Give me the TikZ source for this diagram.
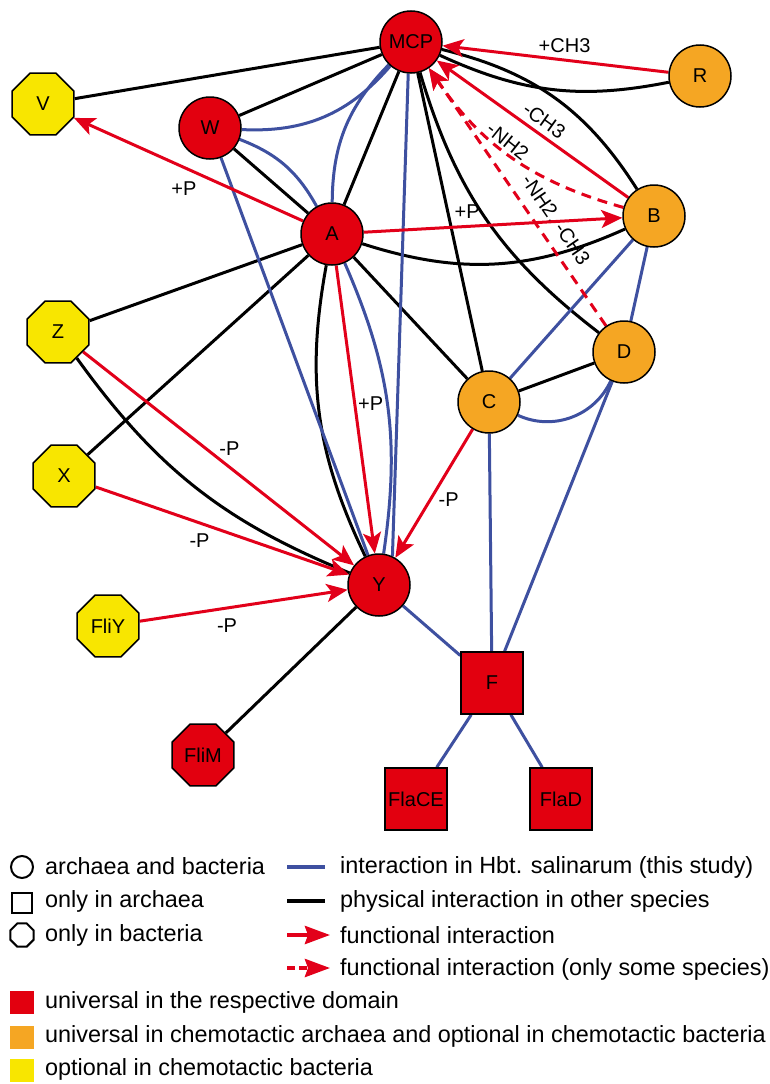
\documentclass[tikz,border=0pt]{standalone}
\usepackage{fontspec}
\setmainfont{Liberation Sans}
\usetikzlibrary{shapes.geometric,arrows.meta}
\definecolor{nred}{RGB}{226,0,15}
\definecolor{norange}{RGB}{245,166,35}
\definecolor{nyellow}{RGB}{248,230,0}
\definecolor{eblue}{RGB}{62,80,160}
\definecolor{ered}{RGB}{226,0,26}
\pgfdeclarelayer{back}
\pgfdeclarelayer{bg}
\pgfsetlayers{back,bg,main}
\begin{document}
\begin{tikzpicture}[x=1pt,y=-1pt,
  every node/.style={font=\fontsize{20}{24}\selectfont},
  circ/.style={circle,draw=black,line width=1.5pt,minimum size=62pt,inner sep=0pt},
  oct/.style={regular polygon,regular polygon sides=8,draw=black,line width=1.5pt,minimum size=67pt,inner sep=0pt},
  sq/.style={rectangle,draw=black,line width=1.5pt,minimum size=62pt,inner sep=0pt},
  blk/.style={draw=black,line width=3pt},
  blu/.style={draw=eblue,line width=3pt},
  fun/.style={draw=ered,line width=3pt,-{Stealth[length=21pt,width=18pt,inset=5pt]}},
  fund/.style={fun,dash pattern=on 10pt off 7pt},
  lab/.style={font=\fontsize{20}{24}\selectfont,inner sep=2pt},
  leg/.style={font=\fontsize{23.4}{27}\selectfont,anchor=base west,inner sep=0pt},
  legbox/.style={rectangle,minimum width=24pt,minimum height=23pt,inner sep=0pt},
]
\begin{pgfonlayer}{back}
\fill[white] (0,0) rectangle (770,1084);
\end{pgfonlayer}
\useasboundingbox (0,0) rectangle (770,1084);

% nodes
\node[circ,fill=nred] (MCP) at (411,42) {MCP};
\node[circ,fill=norange] (R) at (700,76) {R};
\node[circ,fill=norange] (B) at (654,216) {B};
\node[circ,fill=nred] (W) at (210,128) {W};
\node[oct,fill=nyellow] (V) at (43,104) {V};
\node[circ,fill=nred] (A) at (332,234) {A};
\node[circ,fill=norange] (D) at (624,352) {D};
\node[circ,fill=norange] (C) at (489,402) {C};
\node[oct,fill=nyellow] (Z) at (58,332) {Z};
\node[oct,fill=nyellow] (X) at (64,476) {X};
\node[circ,fill=nred] (Y) at (379,585) {Y};
\node[oct,fill=nyellow] (FliY) at (108,626) {FliY};
\node[sq,fill=nred] (F) at (492,683) {F};
\node[oct,fill=nred] (FliM) at (203,755) {FliM};
\node[sq,fill=nred] (FlaCE) at (416,799) {FlaCE};
\node[sq,fill=nred] (FlaD) at (561,799) {FlaD};

\begin{pgfonlayer}{bg}
% black: physical interaction
\draw[blk] (MCP) -- (V);
\draw[blk] (MCP) -- (W);
\draw[blk] (MCP) -- (A);
\draw[blk] (MCP) -- (C);
\draw[blk] (MCP) to[bend right=18] (D);
\draw[blk] (MCP) to[bend left=22] (B);
\draw[blk] (MCP) to[bend right=18] (R);
\draw[blk] (W) -- (A);
\draw[blk] (A) -- (Z);
\draw[blk] (A) -- (X);
\draw[blk] (A) -- (C);
\draw[blk] (A) to[bend right=21] (B);
\draw[blk] (A) to[bend right=18] (Y);
\draw[blk] (Z) to[bend right=16] (Y);
\draw[blk] (C) -- (D);
\draw[blk] (Y) -- (FliM);
% blue: Hbt. salinarum
\draw[blu] (W) to[bend right=26] (MCP);
\draw[blu] (W) to[bend left=20] (A);
\draw[blu] (A) to[bend left=22] (MCP);
\draw[blu] (MCP.-95) -- (Y.65);
\draw[blu] (W) -- (Y);
\draw[blu] (A) to[bend left=16] (Y);
\draw[blu] (C) -- (B);
\draw[blu] (B) -- (D);
\draw[blu] (C) to[bend right=45] (D);
\draw[blu] (C) -- (F);
\draw[blu] (D) -- (F);
\draw[blu] (Y) -- (F);
\draw[blu] (F) -- (FlaCE);
\draw[blu] (F) -- (FlaD);
% red: functional
\draw[fun] (R) -- node[lab,above=4pt,pos=0.46]{+CH3} (MCP);
\draw[fun] (B) -- node[lab,sloped,above=3pt,pos=0.48]{-CH3} (MCP);
\draw[fund] (B) to[bend left=20] node[lab,sloped,above=0pt,pos=0.56]{-NH2} (MCP);
\draw[fund] (D) -- node[lab,sloped,above=6pt,pos=0.37]{-NH2, -CH3} (MCP);
\draw[fun] (A) -- node[lab,below=11pt,pos=0.52]{+P} (V);
\draw[fun] (A) -- node[lab,above=4pt,pos=0.40]{+P} (B);
\draw[fun] (A) -- node[lab,right=0pt,pos=0.48]{+P} (Y);
\draw[fun] (Z) -- node[lab,above=8pt,pos=0.54]{-P} (Y);
\draw[fun] (X) -- node[lab,below=7pt,pos=0.41]{-P} (Y);
\draw[fun] (FliY) -- node[lab,below=7pt,pos=0.42]{-P} (Y);
\draw[fun] (C) -- node[lab,right=5pt,pos=0.55]{-P} (Y);
\end{pgfonlayer}

% legend
\node[circle,draw=black,line width=2pt,minimum size=22pt,inner sep=0pt] (lgc) at (22,867) {};
\node[leg] (lgct) at (45,874) {archaea and bacteria};
\node[rectangle,draw=black,line width=2pt,minimum width=20pt,minimum height=20pt,inner sep=0pt] (lgs) at (22,903) {};
\node[leg] (lgst) at (45,907) {only in archaea};
\node[regular polygon,regular polygon sides=8,draw=black,line width=2pt,minimum size=25pt,inner sep=0pt] (lgo) at (22,935) {};
\node[leg] (lgot) at (45,941) {only in bacteria};

\coordinate (b1) at (287,867); \coordinate (b2) at (325,867);
\draw[draw=eblue,line width=4pt] (b1) -- (b2);
\node[leg] (lgbt) at (340,873) {interaction in Hbt. salinarum (this study)};
\coordinate (k1) at (287,901); \coordinate (k2) at (325,901);
\draw[draw=black,line width=4pt] (k1) -- (k2);
\node[leg] (lgkt) at (340,907) {physical interaction in other species};
\coordinate (r1) at (287,935); \coordinate (r2) at (330,935);
\draw[draw=ered,line width=4pt,-{Stealth[length=25pt,width=18pt,inset=3pt]}] (r1) -- (r2);
\node[leg] (lgrt) at (340,943) {functional interaction};
\coordinate (d1) at (287,968); \coordinate (d2) at (330,968);
\draw[draw=ered,line width=4pt,dash pattern=on 8pt off 4pt,-{Stealth[length=25pt,width=18pt,inset=3pt]}] (d1) -- (d2);
\node[leg] (lgdt) at (340,975) {functional interaction (only some species)};

\node[legbox,fill=nred] (lgred) at (22,1002) {};
\node[leg] (lgredt) at (45,1008) {universal in the respective domain};
\node[legbox,fill=norange] (lgor) at (22,1037) {};
\node[leg] (lgort) at (45,1042) {universal in chemotactic archaea and optional in chemotactic bacteria};
\node[legbox,fill=nyellow] (lgye) at (22,1070) {};
\node[leg] (lgyet) at (45,1075) {optional in chemotactic bacteria};
\end{tikzpicture}
\end{document}
